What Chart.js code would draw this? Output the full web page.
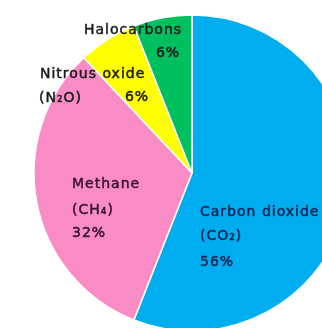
<!DOCTYPE html>
<html>
<head>
<meta charset="utf-8">
<script src="https://cdn.jsdelivr.net/npm/chart.js@4"></script>
<style>
  html, body { margin: 0; padding: 0; background: #fff; overflow: hidden; }
  #wrap { position: relative; width: 322px; height: 328px; overflow: hidden; }
</style>
</head>
<body>
<div id="wrap"><canvas id="c" width="322" height="328"></canvas></div>
<script>
// Share of greenhouse gas contribution, clockwise from 12 o'clock
const categories = ['Carbon dioxide', 'Methane', 'Nitrous oxide', 'Halocarbons'];
const formulas = ['(CO₂)', '(CH₄)', '(N₂O)', ''];
const shares = [56, 32, 6, 6];
const colors = ['#00AEEF', '#FA8CC5', '#FFFF00', '#00BF5F'];

// Text placement around the pie centre (pixels)
const labelLayout = [
  { color: '#0d2456', lines: [
      { t: categories[0], dx: 8, dy: 39, align: 'left' },
      { t: formulas[0], dx: 8, dy: 63, align: 'left' },
      { t: shares[0] + '%', dx: 8, dy: 89, align: 'left' } ] },
  { color: '#3a1430', lines: [
      { t: categories[1], dx: -120, dy: 11, align: 'left' },
      { t: formulas[1], dx: -120, dy: 37, align: 'left' },
      { t: shares[1] + '%', dx: -120, dy: 60, align: 'left' } ] },
  { color: '#1c1c1c', lines: [
      { t: categories[2], dx: -152, dy: -99, align: 'left' },
      { t: formulas[2], dx: -153, dy: -75, align: 'left' },
      { t: shares[2] + '%', dx: -55, dy: -76, align: 'center' } ] },
  { color: '#1c1c1c', lines: [
      { t: categories[3], dx: -59, dy: -143, align: 'center' },
      { t: shares[3] + '%', dx: -24, dy: -120, align: 'center' } ] }
];

const sliceText = {
  id: 'sliceText',
  afterDatasetsDraw(chart) {
    const arc = chart.getDatasetMeta(0).data[0];
    const cx = arc.x, cy = arc.y;
    const ctx = chart.ctx;
    ctx.save();
    ctx.font = '14px "DejaVu Sans", sans-serif';
    if ('letterSpacing' in ctx) ctx.letterSpacing = '1px';
    ctx.textBaseline = 'middle';
    ctx.lineWidth = 0.5;
    ctx.lineJoin = 'round';
    labelLayout.forEach(group => {
      ctx.fillStyle = group.color;
      ctx.strokeStyle = group.color;
      group.lines.forEach(l => {
        if (!l.t) return;
        ctx.textAlign = l.align;
        ctx.fillText(l.t, cx + l.dx, cy + l.dy);
        ctx.strokeText(l.t, cx + l.dx, cy + l.dy);
      });
    });
    ctx.restore();
  }
};

new Chart(document.getElementById('c'), {
  type: 'pie',
  data: {
    labels: categories,
    datasets: [{
      data: shares,
      backgroundColor: colors,
      borderColor: '#ffffff',
      borderWidth: 1.5,
      clip: false
    }]
  },
  options: {
    responsive: false,
    animation: false,
    radius: 158,
    layout: { padding: { left: 62, right: 0, top: 18, bottom: 0 } },
    plugins: { legend: { display: false }, tooltip: { enabled: false } }
  },
  plugins: [sliceText]
});
</script>
</body>
</html>
